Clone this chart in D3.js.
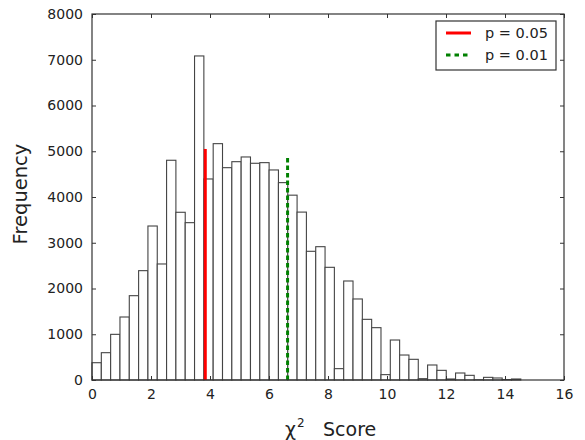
<!DOCTYPE html>
<html>
<head>
<meta charset="utf-8">
<script src="https://cdn.jsdelivr.net/npm/d3@7"></script>
<style>
    body { margin: 0; background: #fff; }
    text { font-family: 'DejaVu Sans', sans-serif; fill: #222; }
</style>
</head>
<body>
<div id="chart-holder"></div>
<script>
// histogram bins (chi-square score), equal width starting at 0
var binStart = 0;
var binWidth = 0.316;
var binCounts = [
    378, 597, 998, 1377, 1843, 2390, 3366, 2536, 4803, 3666,
    3439, 7083, 4394, 5166, 4641, 4772, 4875, 4737, 4751, 4591,
    4314, 4040, 3670, 2813, 2914, 2463, 248, 2164, 1771, 1326,
    1144, 117, 874, 546, 452, 29, 328, 211, 22, 153,
    102, 5, 58, 44, 10, 22
];

// critical values
var critNames = ['p = 0.05', 'p = 0.01'];
var critValues = [3.84, 6.63];
var critHeights = [5050, 4880];
var critColors = ['#ff0000', '#008000'];

var xTicks = [0, 2, 4, 6, 8, 10, 12, 14, 16];
var yTicks = [0, 1000, 2000, 3000, 4000, 5000, 6000, 7000, 8000];

function buildChart(containerId) {
    var width = 585;
    var height = 440;

    var margin = { top: 14, right: 21, bottom: 60, left: 92 };

    var innerWidth = width - margin.left - margin.right;
    var innerHeight = height - margin.top - margin.bottom;

    var svg = d3
        .select(containerId)
        .append('svg')
        .attr('width', width)
        .attr('height', height);

    var g = svg
        .append('g')
        .attr('transform', 'translate(' + margin.left + ',' + margin.top + ')');

    var bins = binCounts.map(function(c, i) {
        return { x0: binStart + i * binWidth, x1: binStart + (i + 1) * binWidth, count: c };
    });

    // scales
    var x = d3.scaleLinear().domain([0, 16]).range([0, innerWidth]);
    var y = d3.scaleLinear().domain([0, 8000]).range([innerHeight, 0]);

    // bars
    g
        .selectAll('.bar')
        .data(bins)
        .enter()
        .append('rect')
        .attr('class', 'bar')
        .attr('x', function(d) { return x(d.x0); })
        .attr('y', function(d) { return y(d.count); })
        .attr('width', function(d) { return x(d.x1) - x(d.x0); })
        .attr('height', function(d) { return innerHeight - y(d.count); })
        .attr('fill', '#fff')
        .attr('stroke', '#444')
        .attr('stroke-width', 1.1);

    // critical value lines
    g
        .selectAll('.crit')
        .data(critValues)
        .enter()
        .append('line')
        .attr('class', 'crit')
        .attr('x1', function(d) { return x(d); })
        .attr('x2', function(d) { return x(d); })
        .attr('y1', innerHeight)
        .attr('y2', function(d, i) { return y(critHeights[i]); })
        .attr('stroke', function(d, i) { return critColors[i]; })
        .attr('stroke-width', 3)
        .attr('stroke-dasharray', function(d, i) { return i === 1 ? '4.5,3' : null; });

    // axes: ticks inward on all four sides
    var axisStyle = function(sel) {
        sel.select('.domain').remove();
        sel.selectAll('.tick line').attr('stroke', '#333');
        sel.selectAll('.tick text')
            .style('font-family', "'DejaVu Sans', sans-serif")
            .style('font-size', '14px')
            .attr('fill', '#222');
    };

    g.append('g')
        .attr('transform', 'translate(0,' + innerHeight + ')')
        .call(d3.axisBottom(x).tickValues(xTicks).tickSize(-4).tickPadding(9).tickFormat(d3.format('d')))
        .call(axisStyle);

    g.append('g')
        .call(d3.axisTop(x).tickValues(xTicks).tickSize(-4).tickFormat(''))
        .call(axisStyle);

    g.append('g')
        .call(d3.axisLeft(y).tickValues(yTicks).tickSize(-4).tickPadding(9).tickFormat(d3.format('d')))
        .call(axisStyle);

    g.append('g')
        .attr('transform', 'translate(' + innerWidth + ',0)')
        .call(d3.axisRight(y).tickValues(yTicks).tickSize(-4).tickFormat(''))
        .call(axisStyle);

    // frame
    g.append('rect')
        .attr('width', innerWidth)
        .attr('height', innerHeight)
        .attr('fill', 'none')
        .attr('stroke', '#333')
        .attr('stroke-width', 1.2);

    // legend
    var legend = g.append('g').attr('transform', 'translate(' + (innerWidth - 128) + ',7)');
    legend.append('rect')
        .attr('width', 120)
        .attr('height', 49)
        .attr('fill', '#fff')
        .attr('stroke', '#333')
        .attr('stroke-width', 1.2);
    critNames.forEach(function(name, i) {
        var ly = 12 + i * 22;
        legend.append('line')
            .attr('x1', 10).attr('x2', 35)
            .attr('y1', ly).attr('y2', ly)
            .attr('stroke', critColors[i])
            .attr('stroke-width', 3)
            .attr('stroke-dasharray', i === 1 ? '4.5,4' : null);
        legend.append('text')
            .attr('x', 49)
            .attr('y', ly)
            .attr('dominant-baseline', 'central')
            .style('font-size', '14.5px')
            .text(name);
    });

    // axis labels
    var xl = svg.append('text')
        .attr('x', 285)
        .attr('y', 436)
        .style('font-size', '19px');
    xl.append('tspan').text('χ');
    xl.append('tspan').attr('dy', -9).attr('dx', 1).style('font-size', '12px').text('2');
    xl.append('tspan').attr('x', 323).attr('dy', 9).text('Score');

    svg.append('text')
        .attr('transform', 'translate(27,' + (margin.top + 180) + ') rotate(-90)')
        .attr('text-anchor', 'middle')
        .style('font-size', '19.5px')
        .text('Frequency');
}

buildChart('#chart-holder');
</script>
</body>
</html>
